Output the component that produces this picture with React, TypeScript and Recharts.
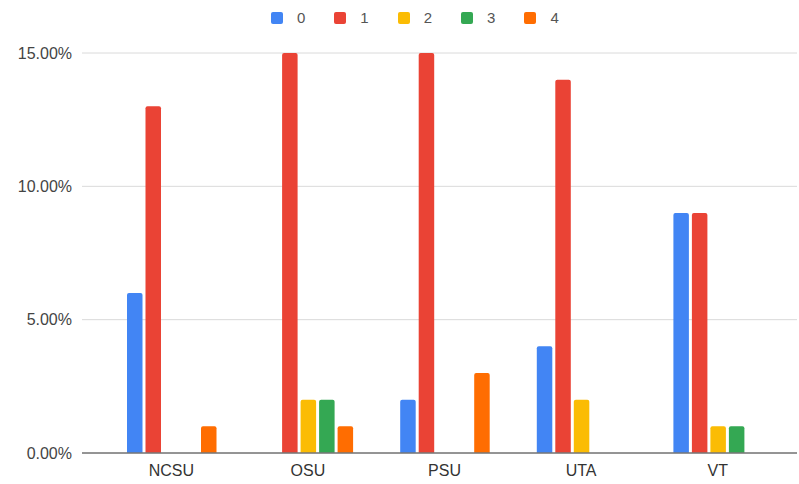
import React from 'react';
import { BarChart, Bar, XAxis, YAxis, CartesianGrid, Legend } from 'recharts';

const schools = ['NCSU', 'OSU', 'PSU', 'UTA', 'VT'];
const series0 = [6, 0, 2, 4, 9];
const series1 = [13, 15, 15, 14, 9];
const series2 = [0, 2, 0, 2, 1];
const series3 = [0, 2, 0, 0, 1];
const series4 = [1, 1, 3, 0, 0];
const seriesNames = ['0', '1', '2', '3', '4'];
const colors = ['#4285f4', '#ea4335', '#fbbc04', '#34a853', '#ff6d01'];
const yTicks = [0, 5, 10, 15];

const allSeries = [series0, series1, series2, series3, series4];
const data = schools.map((school, i) => {
  const row: any = { school };
  seriesNames.forEach((name, s) => {
    row['s' + name] = allSeries[s][i];
  });
  return row;
});

const font = '"Liberation Sans", Arial, sans-serif';

const LegendContent = () => (
  <div style={{ display: 'flex', justifyContent: 'flex-start', paddingLeft: 271 }}>
    {seriesNames.map((name, i) => (
      <div key={name} style={{ display: 'flex', alignItems: 'center', marginRight: 29 }}>
        <span
          style={{
            width: 12,
            height: 12,
            background: colors[i],
            borderRadius: 2,
            display: 'inline-block',
            marginRight: 14,
          }}
        />
        <span style={{ fontFamily: font, fontSize: 15, color: '#555' }}>{name}</span>
      </div>
    ))}
  </div>
);

export default function App() {
  return (
    <div style={{ position: 'fixed', left: 0, top: 0, background: '#fff' }}>
      <BarChart
        width={799}
        height={484}
        data={data}
        margin={{ top: 53, right: 2, left: 0, bottom: 0 }}
        barSize={15.5}
        barGap={3}
      >
        <CartesianGrid vertical={false} stroke="#dadada" />
        <XAxis
          dataKey="school"
          axisLine={{ stroke: '#777', strokeWidth: 1.5 }}
          tickLine={false}
          padding={{ left: 21, right: 11 }}
          tick={{ fill: '#333', fontSize: 16, fontFamily: font }}
          tickMargin={6}
          height={31}
        />
        <YAxis
          domain={[0, 15]}
          ticks={yTicks}
          tickFormatter={(v: number) => v.toFixed(2) + '%'}
          axisLine={false}
          tickLine={false}
          tickSize={0}
          tickMargin={10}
          width={82}
          tick={{ fill: '#444', fontSize: 16, fontFamily: font }}
        />
        <Legend
          verticalAlign="top"
          content={<LegendContent />}
          wrapperStyle={{ position: 'absolute', top: 9, left: 0, width: 799, height: 0 }}
        />
        {seriesNames.map((name, i) => (
          <Bar
            key={name}
            dataKey={'s' + name}
            name={name}
            fill={colors[i]}
            radius={[2, 2, 0, 0]}
            isAnimationActive={false}
          />
        ))}
      </BarChart>
    </div>
  );
}
